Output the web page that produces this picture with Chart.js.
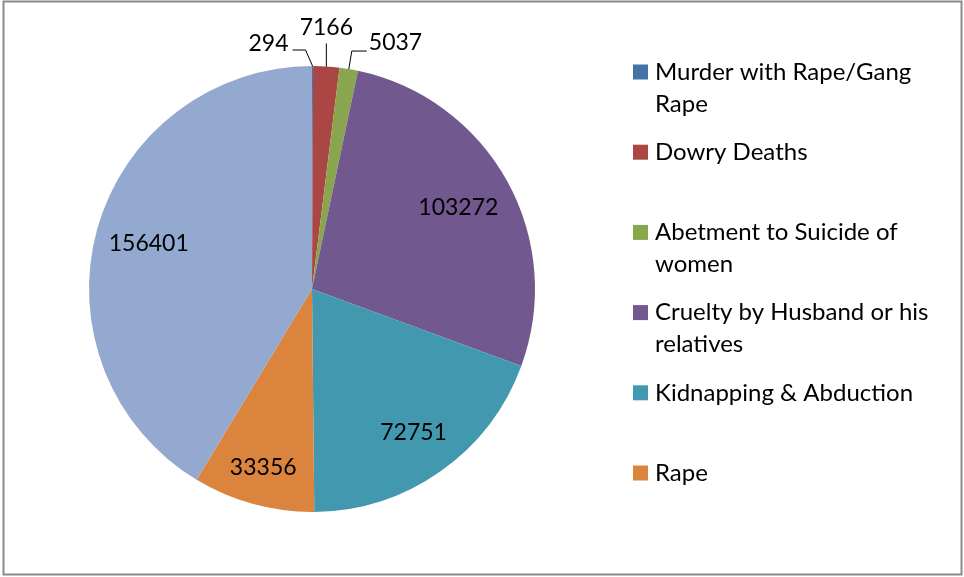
<!DOCTYPE html>
<html><head><meta charset="utf-8">
<script src="https://cdn.jsdelivr.net/npm/chart.js@4.4.1/dist/chart.umd.min.js"></script>
<style>html,body{margin:0;padding:0;background:#fff;}#wrap{position:relative;width:964px;height:577px;}</style>
</head><body><div id="wrap"><canvas id="c" width="964" height="577"></canvas></div>
<script>
// ---- data ----
const categories = [
  'Murder with Rape/Gang Rape',
  'Dowry Deaths',
  'Abetment to Suicide of women',
  'Cruelty by Husband or his relatives',
  'Kidnapping & Abduction',
  'Rape',
  'Assault on Women with Intent to Outrage her Modesty'
];
const values = [294, 7166, 5037, 103272, 72751, 33356, 156401];
const colors = ['#4572A7', '#AA4643', '#89A54E', '#71588F', '#4198AF', '#DB843D', '#93A9CF'];
const legendShown = 6; // the reference legend lists only the first six categories

// ---- styling (not data) ----
const LABEL_FONT = '23px Lato';
const LEGEND_FONT = '24px Lato';
const insideRadius = {3: 0.75, 4: 0.79, 5: 0.83, 6: 0.76};
// outside labels: leader line points and text anchor relative to the slice's outer mid point
const outside = {
  0: {pts: [[-7, -16], [-20, -16]], text: [-24, -22], align: 'right'},
  1: {pts: [[0, -23]], text: [0, -39], align: 'center'},
  2: {pts: [[3, -18], [18, -18]], text: [20, -26], align: 'left'}
};

const framePlugin = {
  id: 'frame',
  beforeDraw(chart) {
    const c = chart.ctx;
    c.save();
    c.fillStyle = '#fff';
    c.fillRect(0, 0, chart.width, chart.height);
    c.strokeStyle = '#8a8a8a';
    c.lineWidth = 2;
    c.strokeRect(3.5, 1.5, 958, 573);
    c.restore();
  }
};

const labelPlugin = {
  id: 'valueLabels',
  afterDatasetsDraw(chart) {
    const c = chart.ctx;
    const arcs = chart.getDatasetMeta(0).data;
    c.save();
    c.font = LABEL_FONT;
    c.fillStyle = '#000';
    c.textBaseline = 'middle';
    arcs.forEach((arc, i) => {
      const p = arc.getProps(['x', 'y', 'startAngle', 'endAngle', 'outerRadius'], true);
      const mid = (p.startAngle + p.endAngle) / 2;
      const txt = String(values[i]);
      if (outside[i]) {
        const ax = p.x + p.outerRadius * Math.cos(mid);
        const ay = p.y + p.outerRadius * Math.sin(mid);
        const o = outside[i];
        c.strokeStyle = '#000';
        c.lineWidth = 1;
        c.beginPath();
        c.moveTo(ax, ay);
        o.pts.forEach(q => c.lineTo(ax + q[0], ay + q[1]));
        c.stroke();
        c.textAlign = o.align;
        c.fillText(txt, ax + o.text[0], ay + o.text[1]);
      } else {
        const r = p.outerRadius * (insideRadius[i] || 0.75);
        c.textAlign = 'center';
        c.fillText(txt, p.x + r * Math.cos(mid), p.y + r * Math.sin(mid));
      }
    });
    c.restore();
  }
};

function wrap(c, text, maxW) {
  const words = text.split(' ');
  const lines = [];
  let cur = '';
  words.forEach(w => {
    const t = cur ? cur + ' ' + w : w;
    if (c.measureText(t).width > maxW && cur) { lines.push(cur); cur = w; } else cur = t;
  });
  if (cur) lines.push(cur);
  return lines;
}

const legendPlugin = {
  id: 'sideLegend',
  afterDraw(chart) {
    const c = chart.ctx;
    c.save();
    c.font = LEGEND_FONT;
    c.textBaseline = 'middle';
    c.textAlign = 'left';
    const top = 72, step = 80.2, lineH = 32, boxX = 633, textX = 655, box = 15;
    for (let i = 0; i < legendShown; i++) {
      const y = top + i * step;
      c.fillStyle = colors[i];
      c.fillRect(boxX, y - box / 2, box, box);
      c.fillStyle = '#000';
      wrap(c, categories[i], 290).forEach((ln, k) => c.fillText(ln, textX, y + k * lineH));
    }
    c.restore();
  }
};

new Chart(document.getElementById('c'), {
  type: 'pie',
  data: {
    labels: categories,
    datasets: [{data: values, backgroundColor: colors, borderWidth: 0}]
  },
  options: {
    responsive: false,
    animation: false,
    layout: {padding: {left: 89, right: 429, top: 66, bottom: 65}},
    plugins: {legend: {display: false}, tooltip: {enabled: false}}
  },
  plugins: [framePlugin, labelPlugin, legendPlugin]
});
</script></body></html>
